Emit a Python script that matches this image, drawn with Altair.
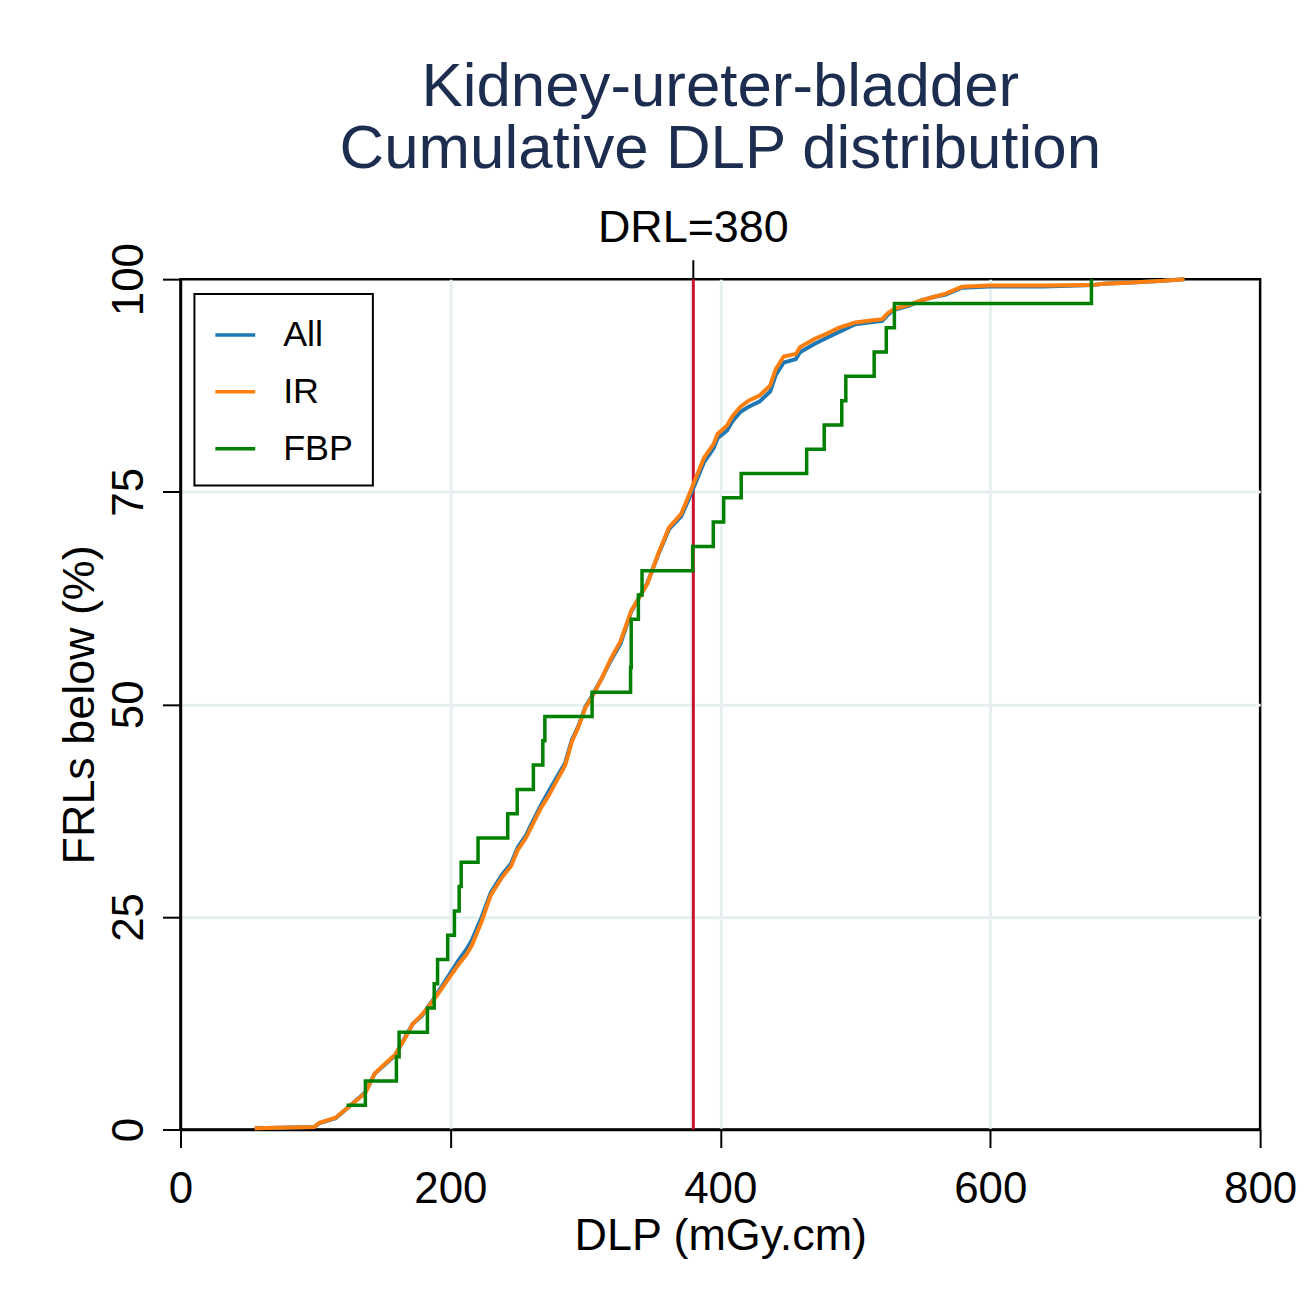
import altair as alt
import pandas as pd

DRL = 380

# IR cumulative distribution
ir_dlp = [55, 99, 103, 115, 125, 137, 144, 152, 159, 167, 172, 179, 186, 191, 198, 206, 212, 216, 223, 230,
          238, 245, 250, 256, 260, 267, 273, 278, 285, 290, 295, 300, 305, 312, 319, 326, 334, 340, 346, 354,
          362, 371, 376, 381, 388, 395, 398, 405, 409, 415, 421, 429, 437, 441, 447, 456, 459, 470, 479, 488,
          500, 510, 520, 524, 529, 540, 549, 558, 567, 579, 599, 640, 675, 684, 705, 728, 744]
ir_pct = [0.15, 0.3, 0.8, 1.4, 2.7, 4.3, 6.6, 7.8, 8.8, 10.9, 12.4, 13.5, 14.9, 16.0, 17.6, 19.4, 20.6, 21.7, 24.4, 27.6,
          29.6, 31.0, 32.9, 34.3, 35.6, 37.8, 39.3, 40.8, 42.8, 45.6, 47.4, 49.6, 50.9, 53.0, 55.4, 57.4, 61.0, 62.6, 64.2, 67.7,
          70.8, 72.4, 74.3, 76.3, 79.0, 80.6, 81.8, 82.8, 83.9, 85.0, 85.7, 86.3, 87.5, 89.4, 90.9, 91.2, 92.0, 93.0, 93.6, 94.3,
          94.9, 95.1, 95.3, 96.0, 96.5, 97.0, 97.5, 97.9, 98.3, 99.1, 99.25, 99.25, 99.3, 99.45, 99.6, 99.8, 100.0]

# All cumulative distribution
all_dlp = [55, 99, 103, 115, 125, 137, 144, 152, 159, 167, 172, 179, 186, 191, 198, 206, 212, 216, 223, 230,
           238, 245, 250, 256, 260, 267, 273, 278, 285, 290, 295, 300, 305, 312, 319, 326, 334, 340, 346, 354,
           362, 371, 376, 381, 388, 395, 398, 405, 409, 415, 421, 429, 437, 441, 447, 456, 459, 470, 479, 488,
           500, 510, 520, 524, 529, 540, 549, 558, 567, 579, 599, 640, 675, 684, 705, 728, 744]
all_pct = [0.14, 0.29, 0.76, 1.33, 2.7, 4.4, 6.6, 7.7, 8.7, 11.0, 12.4, 13.4, 15.0, 16.2, 17.9, 19.9, 21.2, 22.3, 24.9, 27.9,
           29.9, 31.3, 33.2, 34.6, 35.9, 38.1, 39.8, 41.2, 43.1, 45.8, 47.5, 49.7, 51.0, 53.0, 55.2, 57.1, 60.9, 62.6, 64.3, 67.6,
           70.6, 72.1, 73.9, 75.8, 78.5, 80.1, 81.3, 82.2, 83.3, 84.4, 85.0, 85.6, 86.8, 88.7, 90.2, 90.6, 91.4, 92.4, 93.1, 93.8,
           94.7, 94.9, 95.1, 95.8, 96.4, 96.9, 97.5, 97.9, 98.2, 99.0, 99.15, 99.15, 99.3, 99.45, 99.6, 99.8, 100.0]

# FBP cumulative distribution (35 exams)
fbp_dlp = [123, 137, 160, 162, 183, 188, 190.5, 198, 203, 206.5, 208, 220.5, 242.5, 249.5, 261.5, 268.5, 270, 305,
           333.5, 334, 334, 339.3, 342, 379.5, 394.8, 402.5, 415.5, 464, 477, 490, 493, 514, 523, 529, 675]
fbp_pct = [2.86, 5.71, 8.57, 11.43, 14.29, 17.14, 20.0, 22.86, 25.71, 28.57, 31.43, 34.29, 37.14, 40.0, 42.86, 45.71,
           48.57, 51.43, 54.29, 57.14, 60.0, 62.86, 65.71, 68.57, 71.43, 74.29, 77.14, 80.0, 82.86, 85.71, 88.57,
           91.43, 94.29, 97.14, 100.0]

series_names = ["All", "IR", "FBP"]
series_colors = ["#1f77b4", "#ff7f0e", "#008000"]
x_ticks = [0, 200, 400, 600, 800]
y_ticks = [0, 25, 50, 75, 100]

df = pd.concat([
    pd.DataFrame({"DLP": all_dlp, "pct": all_pct, "series": "All"}),
    pd.DataFrame({"DLP": ir_dlp, "pct": ir_pct, "series": "IR"}),
    pd.DataFrame({"DLP": fbp_dlp, "pct": fbp_pct, "series": "FBP"}),
], ignore_index=True)
drl_df = pd.DataFrame({"DLP": [DRL], "label": [f"DRL={DRL}"]})

FONT = "Liberation Sans"
W, H = 1083, 853
GRID = "#e8eff1"

x_enc = alt.X("DLP:Q",
              scale=alt.Scale(domain=[0, 800], nice=False, zero=False),
              axis=alt.Axis(values=x_ticks, title="DLP (mGy.cm)", format="d",
                            labelPadding=20, labelFlush=False, titleX=W / 2, titleY=120,
                            titleAlign="center", titleBaseline="alphabetic",
                            gridColor=alt.condition("datum.value == 0 || datum.value == 800",
                                                    alt.value("transparent"), alt.value(GRID))))
y_enc = alt.Y("pct:Q",
              scale=alt.Scale(domain=[0, 100], nice=False),
              axis=alt.Axis(values=y_ticks, title="FRLs below (%)", format="d",
                            labelAngle=270, labelAlign="center", labelBaseline="alphabetic",
                            labelPadding=20, labelFlush=False, titleAngle=270, titleX=-87, titleY=H / 2,
                            titleAlign="center", titleBaseline="alphabetic",
                            gridColor=alt.condition("datum.value == 0 || datum.value == 100",
                                                    alt.value("transparent"), alt.value(GRID))))
color_enc = alt.Color("series:N",
                      scale=alt.Scale(domain=series_names, range=series_colors),
                      legend=alt.Legend(title=None, orient="none", legendX=14, legendY=15))

base = alt.Chart(df)

drl_line = alt.Chart(drl_df).mark_rule(color="#c8102e", strokeWidth=3).encode(x=x_enc)

line_all = base.transform_filter(alt.datum.series == "All").mark_line(strokeWidth=4).encode(
    x=x_enc, y=y_enc, color=color_enc, order="DLP:Q")
line_ir = base.transform_filter(alt.datum.series == "IR").mark_line(strokeWidth=4).encode(
    x=x_enc, y=y_enc, color=color_enc, order="DLP:Q")
line_fbp = base.transform_filter(alt.datum.series == "FBP").mark_line(
    strokeWidth=3.5, interpolate="step-after").encode(x=x_enc, y=y_enc, color=color_enc, order="DLP:Q")

drl_tick = alt.Chart(drl_df).mark_rule(color="black", strokeWidth=2, clip=False).encode(
    x="DLP:Q", y=alt.value(-19), y2=alt.value(0))
drl_text = alt.Chart(drl_df).mark_text(font=FONT, fontSize=45, color="black", baseline="alphabetic",
                                       align="center", clip=False).encode(
    x="DLP:Q", y=alt.value(-37), text="label:N")

chart = alt.layer(drl_line, line_all, line_ir, line_fbp, drl_tick, drl_text).properties(
    width=W, height=H,
    title=alt.TitleParams(["Kidney-ureter-bladder", "Cumulative DLP distribution"],
                          font=FONT, fontSize=62, fontWeight="normal", color="#1c2d50",
                          anchor="middle", lineHeight=63, offset=25),
    autosize=alt.AutoSizeParams(type="none"),
    padding={"left": 173, "top": 270, "right": 45, "bottom": 170},
).configure_view(
    stroke="black", strokeWidth=2.5
).configure_axis(
    domainColor="black", domainWidth=2.5, tickColor="black", tickWidth=2, tickSize=18,
    gridWidth=3, labelFont=FONT, labelFontSize=44, labelColor="black",
    titleFont=FONT, titleFontSize=45, titleColor="black", titleFontWeight="normal"
).configure_legend(
    strokeColor="black", strokeWidth=2, fillColor="white", padding=19,
    labelFont=FONT, labelFontSize=36, labelColor="black", labelOffset=26,
    symbolType="stroke", symbolSize=1600, symbolStrokeWidth=3.5, rowPadding=17
)

chart.save("out.html", embed_options={"renderer": "svg", "actions": False})
